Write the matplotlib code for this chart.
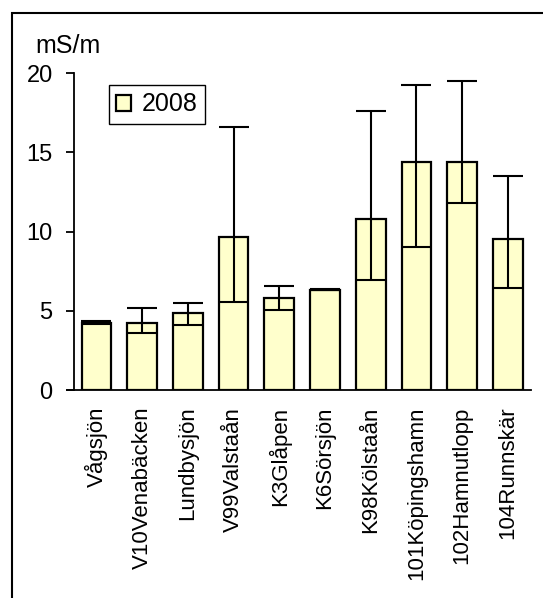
import numpy as np
import matplotlib
matplotlib.use('Agg')
import matplotlib.pyplot as plt
from matplotlib.patches import Rectangle

plt.rcParams['font.family'] = ['Liberation Sans', 'DejaVu Sans']

stations = ['Vågsjön', 'V10Venabäcken', 'Lundbysjön', 'V99Valstaån', 'K3Glåpen',
            'K6Sörsjön', 'K98Kölstaån', '101Köpingshamn', '102Hamnutlopp', '104Runnskär']
mean_2008 = [4.22, 4.21, 4.84, 9.68, 5.83, 6.34, 10.8, 14.4, 14.4, 9.56]
err_low = [0.08, 0.6, 0.75, 4.1, 0.76, 0.05, 3.85, 5.35, 2.6, 3.12]
err_high = [0.12, 1.0, 0.63, 6.95, 0.74, 0.05, 6.82, 4.87, 5.1, 3.96]
yticks = [0, 5, 10, 15, 20]

fig = plt.figure(figsize=(5.43, 5.98), dpi=100)
fig.set_facecolor('white')

# outer frame (only top/left visible in the original)
fig.add_artist(Rectangle((0.0212, -0.2), 1.2, 0.979 + 0.2, transform=fig.transFigure,
                         fill=False, ec='black', lw=1.5))

ax = fig.add_axes((0.1354, 0.3478, 0.842, 0.5296))
x = np.arange(len(stations))
ax.bar(x, mean_2008, width=0.65, color='#FFFFCC', ec='black', lw=1.6, label='2008',
       yerr=[err_low, err_high], capsize=11,
       error_kw=dict(ecolor='black', elinewidth=1.5, capthick=1.5))

ax.set_xlim(-0.5, len(stations) - 0.5)
ax.set_ylim(0, 20)
ax.set_yticks(yticks)
ax.set_yticklabels([str(t) for t in yticks], fontsize=17)
ax.set_xticks(x)
ax.set_xticklabels(stations, rotation=90, fontsize=16)
ax.tick_params(axis='x', length=0, pad=12)
ax.tick_params(axis='y', length=6, width=1.3, direction='out', pad=9)
ax.spines['top'].set_visible(False)
ax.spines['right'].set_visible(False)
ax.spines['left'].set_linewidth(1.3)
ax.spines['bottom'].set_linewidth(1.3)
ax.spines['bottom'].set_bounds(-0.65, len(stations) - 0.5)

fig.text(0.0645, 0.923, 'mS/m', fontsize=18, ha='left', va='center')

leg = ax.legend(loc='upper left', bbox_to_anchor=(0.2007, 0.858), bbox_transform=fig.transFigure,
                borderaxespad=0, fancybox=False, edgecolor='black', framealpha=1,
                fontsize=18, handlelength=0.6, handleheight=0.6, handletextpad=0.4,
                borderpad=0.3)
leg.get_frame().set_linewidth(1.0)

plt.savefig('out.png', dpi=100)
